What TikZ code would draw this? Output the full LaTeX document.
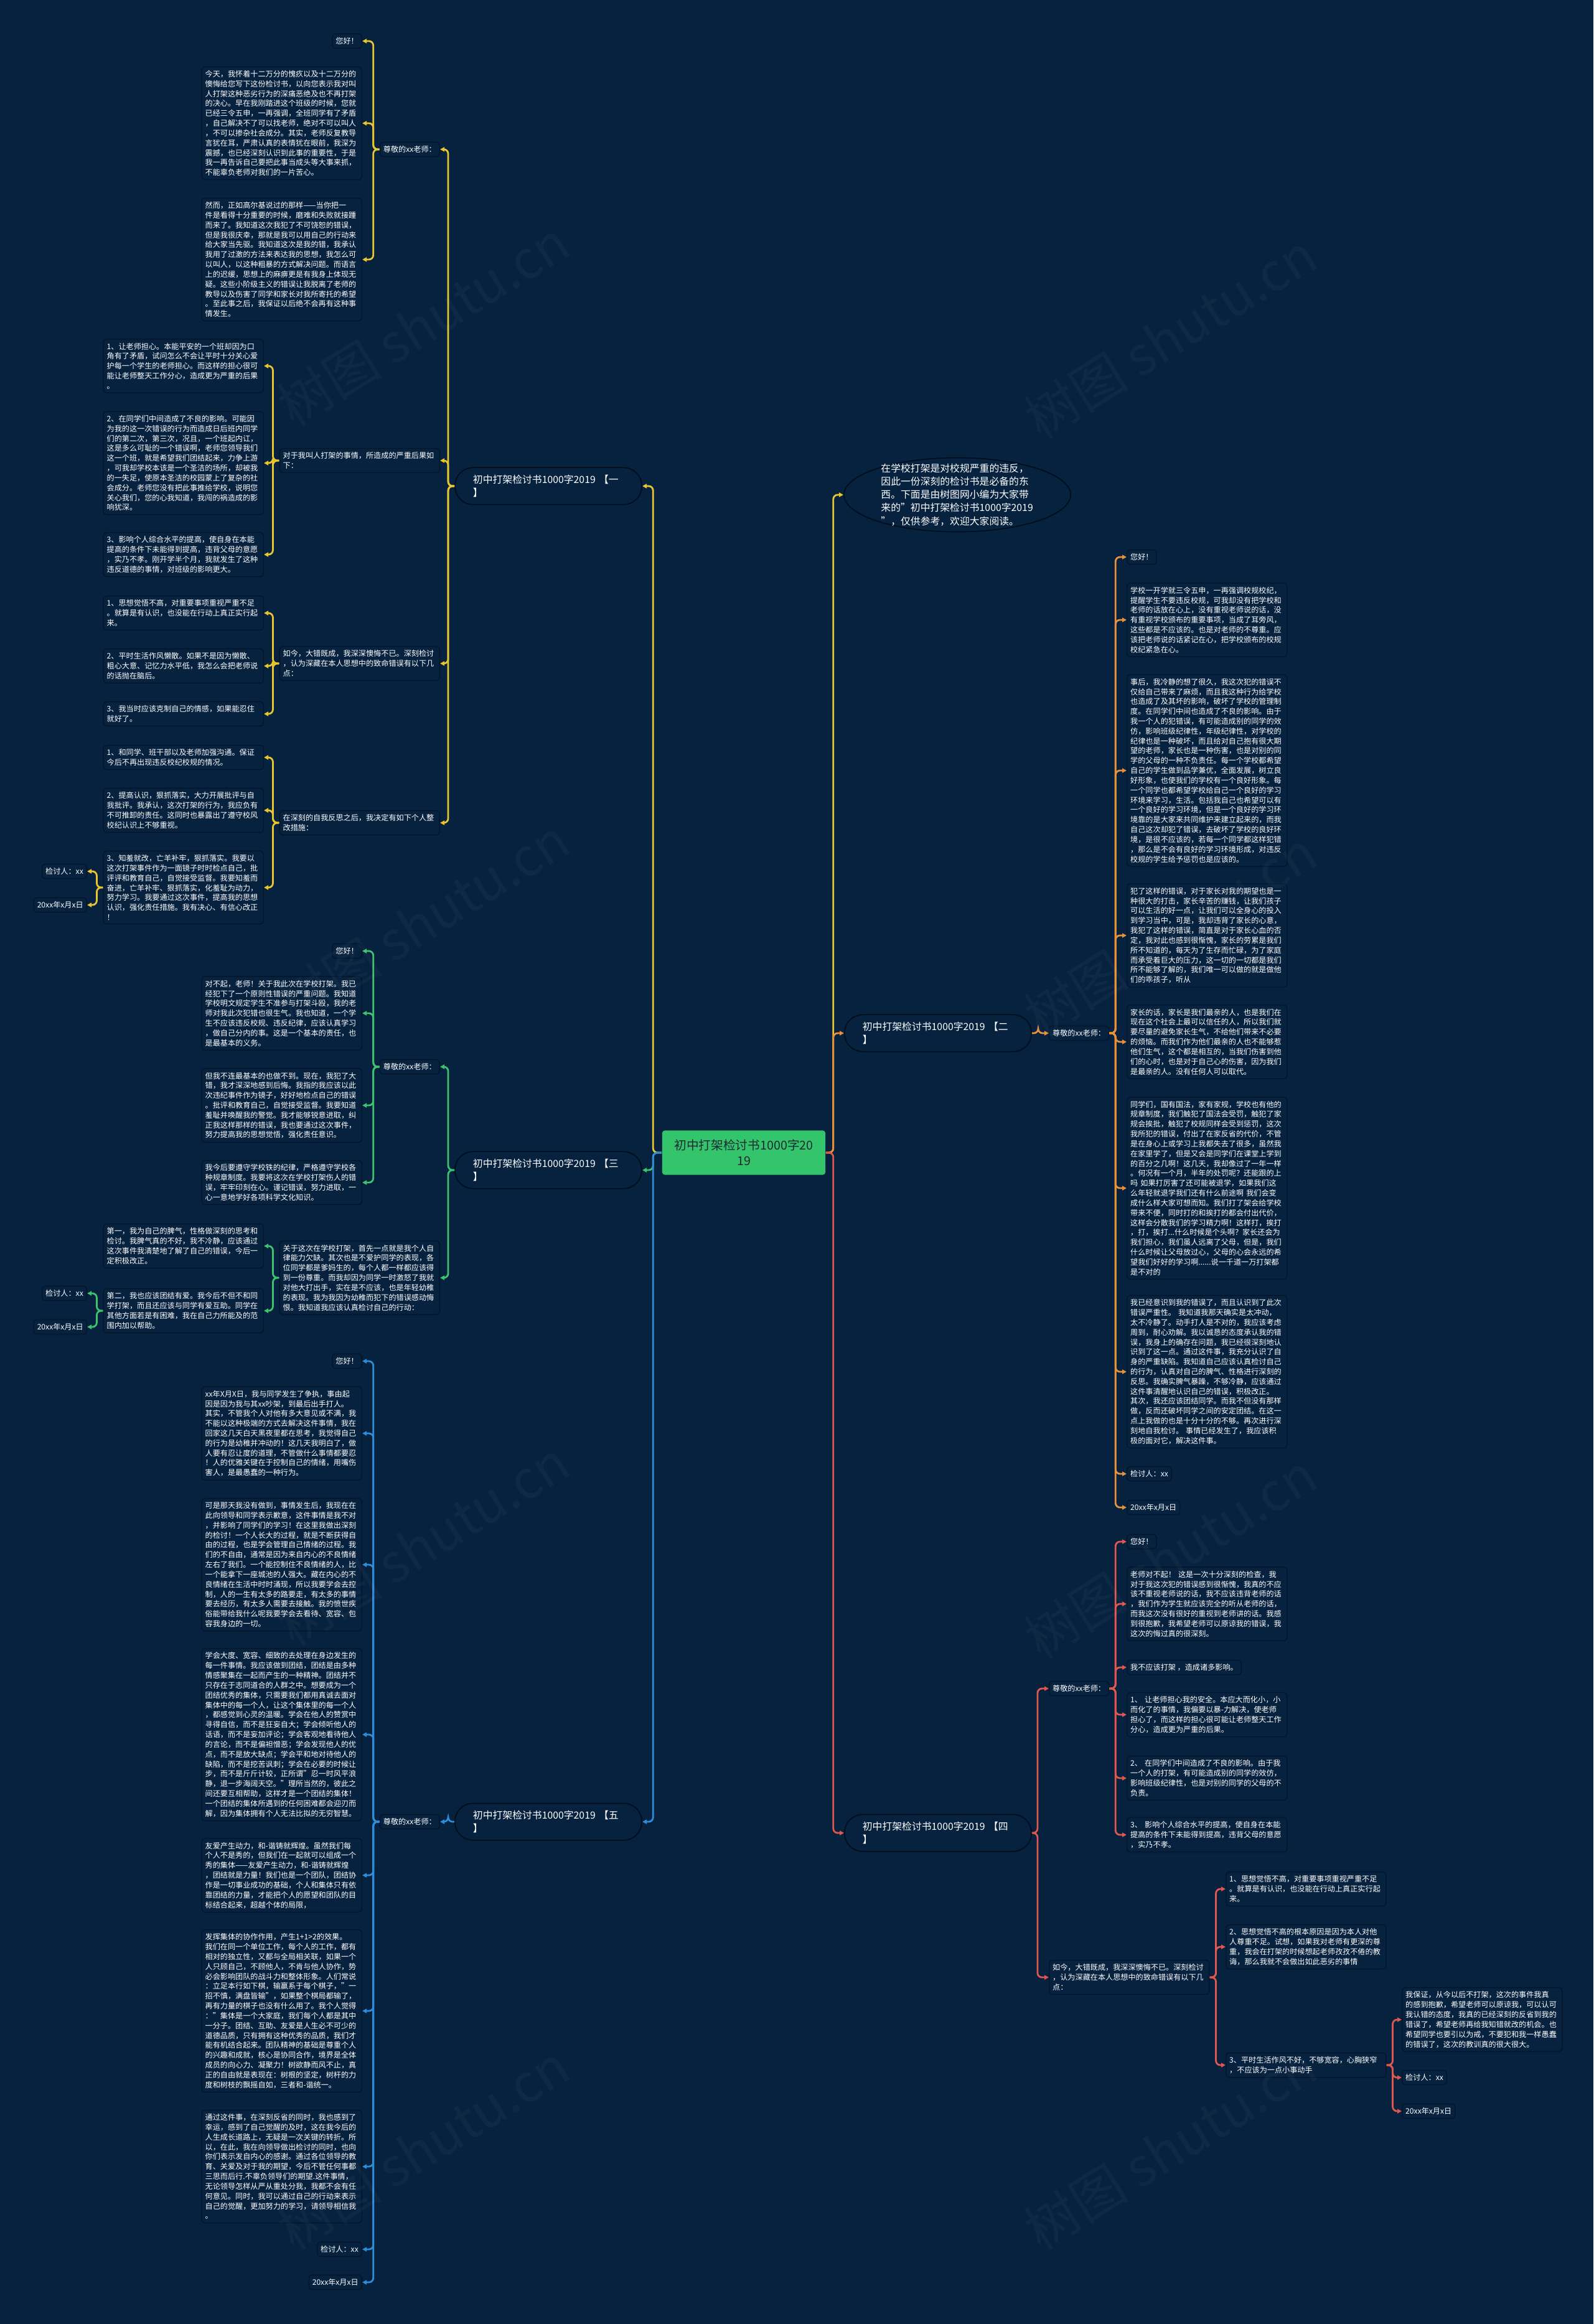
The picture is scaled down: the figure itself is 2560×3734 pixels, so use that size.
\documentclass[tikz,border=0pt]{standalone}
\usepackage{fontspec}
\setmainfont{Noto Sans CJK SC}
\usetikzlibrary{arrows.meta, shapes.geometric}
\definecolor{bgnavy}{HTML}{07223F}
\definecolor{cardedge}{HTML}{04152A}
\definecolor{branchedge}{HTML}{020E1C}
\definecolor{colYel}{HTML}{E9C62E}
\definecolor{colOrg}{HTML}{E8903A}
\definecolor{colRed}{HTML}{E0574F}
\definecolor{colGrn}{HTML}{3DC26E}
\definecolor{colBlu}{HTML}{2E8DD8}
\definecolor{rootgreen}{HTML}{34C46B}
\definecolor{rootink}{HTML}{1B2A33}
\newcommand{\boxfont}{\fontsize{3.45pt}{4.5pt}\selectfont}
\newcommand{\branchfont}{\fontsize{4.5pt}{6pt}\selectfont}
\newcommand{\rootfont}{\fontsize{5.6pt}{7.2pt}\selectfont}

\begin{document}
\begin{tikzpicture}[x=0.01cm, y=-0.01cm,
  link/.style={line width=0.8pt, rounded corners=2pt, -{Triangle[length=0.07cm,width=0.07cm]}},
  toyel/.style={link, draw=colYel},
  toorg/.style={link, draw=colOrg},
  tored/.style={link, draw=colRed},
  togrn/.style={link, draw=colGrn},
  toblu/.style={link, draw=colBlu},
  card/.style={draw=cardedge, fill=bgnavy, rounded corners=0.05cm, text=white, font=\boxfont,
    inner xsep=0.055cm, inner ysep=0.06cm, line width=0.4pt},
  note/.style={card, text width=2.46cm, align=left},
  tag/.style={card, align=left},
  branch/.style={draw=branchedge, fill=bgnavy, rounded corners=0.29cm, text=white, font=\branchfont,
    text width=2.42cm, align=left, inner xsep=0.29cm, minimum height=0.59cm, line width=0.5pt},
  rootbox/.style={fill=rootgreen, rounded corners=0.04cm, text=rootink, font=\rootfont,
    align=center, minimum width=2.62cm, minimum height=0.71cm},
  introshape/.style={ellipse, draw=branchedge, fill=bgnavy, minimum width=3.64cm,
    minimum height=1.19cm, inner sep=0pt, line width=0.5pt},
  introtext/.style={text=white, font=\branchfont, text width=2.45cm, align=left},
  wmark/.style={text=white, text opacity=0.035, font=\fontsize{24pt}{24pt}\selectfont, rotate=32}]

\fill[bgnavy] (0,0) rectangle (2560,3734);
\useasboundingbox (0,0) rectangle (2560,3734);

\node[rootbox] (root) at (1195,1852) {初中打架检讨书1000字20\\19};

\node[introshape] (intro) at (1538,795) {};
\node[introtext] at (intro) {在学校打架是对校规严重的违反，\\因此一份深刻的检讨书是必备的东\\西。下面是由树图网小编为大家带\\来的"初中打架检讨书1000字2019\\"，仅供参考，欢迎大家阅读。};

\node[branch, anchor=east] (b1) at (1032,781) {初中打架检讨书1000字2019 【一\\】};
\node[branch, anchor=west] (b2) at (1356,1660) {初中打架检讨书1000字2019 【二\\】};
\node[branch, anchor=east] (b3) at (1032,1880) {初中打架检讨书1000字2019 【三\\】};
\node[branch, anchor=west] (b4) at (1356,2945) {初中打架检讨书1000字2019 【四\\】};
\node[branch, anchor=east] (b5) at (1032,2927) {初中打架检讨书1000字2019 【五\\】};

\draw[toyel] (root.east) -- ++(12,0) |- (intro.west);
\draw[toorg] (root.east) -- ++(12,0) |- (b2.west);
\draw[tored] (root.east) -- ++(12,0) |- (b4.west);
\draw[toyel] (root.west) -- ++(-14,0) |- (b1.east);
\draw[togrn] (root.west) -- ++(-14,0) |- (b3.east);
\draw[toblu] (root.west) -- ++(-14,0) |- (b5.east);

% 【一】
\node[tag, anchor=east] (b1a) at (707,240) {尊敬的xx老师：};
\node[tag, anchor=east] (b1a1) at (582,66) {您好！};
\node[note, anchor=east] (b1a2) at (582,198) {今天，我怀着十二万分的愧疚以及十二万分的\\懊悔给您写下这份检讨书，以向您表示我对叫\\人打架这种恶劣行为的深痛恶绝及也不再打架\\的决心。早在我刚踏进这个班级的时候，您就\\已经三令五申，一再强调，全班同学有了矛盾\\，自己解决不了可以找老师，绝对不可以叫人\\，不可以掺杂社会成分。其实，老师反复教导\\言犹在耳，严肃认真的表情犹在眼前，我深为\\震撼，也已经深刻认识到此事的重要性，于是\\我一再告诉自己要把此事当成头等大事来抓，\\不能辜负老师对我们的一片苦心。};
\node[note, anchor=east] (b1a3) at (582,417) {然而，正如高尔基说过的那样——当你把一\\件是看得十分重要的时候，磨难和失败就接踵\\而来了。我知道这次我犯了不可饶恕的错误，\\但是我很庆幸，那就是我可以用自己的行动来\\给大家当先驱。我知道这次是我的错，我承认\\我用了过激的方法来表达我的思想，我怎么可\\以叫人，以这种粗暴的方式解决问题。而语言\\上的迟缓，思想上的麻痹更是有我身上体现无\\疑。这些小阶级主义的错误让我脱离了老师的\\教导以及伤害了同学和家长对我所寄托的希望\\。至此事之后，我保证以后绝不会再有这种事\\情发生。};
\node[note, anchor=east] (b1b) at (707,740) {对于我叫人打架的事情，所造成的严重后果如\\下：};
\node[note, anchor=east] (b1b1) at (424,588) {1、让老师担心。本能平安的一个班却因为口\\角有了矛盾，试问怎么不会让平时十分关心爱\\护每一个学生的老师担心。而这样的担心很可\\能让老师整天工作分心，造成更为严重的后果\\。};
\node[note, anchor=east] (b1b2) at (424,744) {2、在同学们中间造成了不良的影响。可能因\\为我的这一次错误的行为而造成日后班内同学\\们的第二次，第三次，况且，一个班起内讧，\\这是多么可耻的一个错误啊，老师您领导我们\\这一个班，就是希望我们团结起来，力争上游\\，可我却学校本该是一个圣洁的场所，却被我\\的一失足，使原本圣洁的校园蒙上了复杂的社\\会成分。老师您没有把此事推给学校，说明您\\关心我们，您的心我知道，我闯的祸造成的影\\响犹深。};
\node[note, anchor=east] (b1b3) at (424,891) {3、影响个人综合水平的提高，使自身在本能\\提高的条件下未能得到提高，违背父母的意愿\\，实乃不孝。刚开学半个月，我就发生了这种\\违反道德的事情，对班级的影响更大。};
\node[note, anchor=east] (b1c) at (707,1066) {如今，大错既成，我深深懊悔不已。深刻检讨\\，认为深藏在本人思想中的致命错误有以下几\\点：};
\node[note, anchor=east] (b1c1) at (424,985) {1、思想觉悟不高，对重要事项重视严重不足\\。就算是有认识，也没能在行动上真正实行起\\来。};
\node[note, anchor=east] (b1c2) at (424,1070) {2、平时生活作风懒散。如果不是因为懒散、\\粗心大意、记忆力水平低，我怎么会把老师说\\的话抛在脑后。};
\node[note, anchor=east] (b1c3) at (424,1147) {3、我当时应该克制自己的情感，如果能忍住\\就好了。};
\node[note, anchor=east] (b1d) at (707,1322) {在深刻的自我反思之后，我决定有如下个人整\\改措施：};
\node[note, anchor=east] (b1d1) at (424,1217) {1、和同学、班干部以及老师加强沟通。保证\\今后不再出现违反校纪校规的情况。};
\node[note, anchor=east] (b1d2) at (424,1302) {2、提高认识，狠抓落实，大力开展批评与自\\我批评。我承认，这次打架的行为，我应负有\\不可推卸的责任。这同时也暴露出了遵守校风\\校纪认识上不够重视。};
\node[note, anchor=east] (b1d3) at (424,1426) {3、知羞就改，亡羊补牢，狠抓落实。我要以\\这次打架事件作为一面镜子时时检点自己，批\\评评和教育自己，自觉接受监督。我要知羞而\\奋进，亡羊补牢、狠抓落实，化羞耻为动力，\\努力学习。我要通过这次事件，提高我的思想\\认识，强化责任措施。我有决心、有信心改正\\！};
\node[tag, anchor=east] (b1sign) at (140,1400) {检讨人：xx};
\node[tag, anchor=east] (b1date) at (140,1454) {20xx年x月x日};

\draw[toyel] (b1.west) -- ++(-10,0) |- (b1a.east);
\draw[toyel] (b1.west) -- ++(-10,0) |- (b1b.east);
\draw[toyel] (b1.west) -- ++(-10,0) |- (b1c.east);
\draw[toyel] (b1.west) -- ++(-10,0) |- (b1d.east);
\draw[toyel] (b1a.west) -- ++(-10,0) |- (b1a1.east);
\draw[toyel] (b1a.west) -- ++(-10,0) |- (b1a2.east);
\draw[toyel] (b1a.west) -- ++(-10,0) |- (b1a3.east);
\draw[toyel] (b1b.west) -- ++(-10,0) |- (b1b1.east);
\draw[toyel] (b1b.west) -- ++(-10,0) |- (b1b2.east);
\draw[toyel] (b1b.west) -- ++(-10,0) |- (b1b3.east);
\draw[toyel] (b1c.west) -- ++(-10,0) |- (b1c1.east);
\draw[toyel] (b1c.west) -- ++(-10,0) |- (b1c2.east);
\draw[toyel] (b1c.west) -- ++(-10,0) |- (b1c3.east);
\draw[toyel] (b1d.west) -- ++(-10,0) |- (b1d1.east);
\draw[toyel] (b1d.west) -- ++(-10,0) |- (b1d2.east);
\draw[toyel] (b1d.west) -- ++(-10,0) |- (b1d3.east);
\draw[toyel] (b1d3.west) -- ++(-10,0) |- (b1sign.east);
\draw[toyel] (b1d3.west) -- ++(-10,0) |- (b1date.east);

% 【三】
\node[tag, anchor=east] (b3a) at (707,1714) {尊敬的xx老师：};
\node[tag, anchor=east] (b3a1) at (582,1528) {您好！};
\node[note, anchor=east] (b3a2) at (582,1628) {对不起，老师！关于我此次在学校打架。我已\\经犯下了一个原则性错误的严重问题。我知道\\学校明文规定学生不准参与打架斗殴，我的老\\师对我此次犯错也很生气。我也知道，一个学\\生不应该违反校规、违反纪律，应该认真学习\\，做自己分内的事。这是一个基本的责任，也\\是最基本的义务。};
\node[note, anchor=east] (b3a3) at (582,1776) {但我不连最基本的也做不到。现在，我犯了大\\错，我才深深地感到后悔。我指的我应该以此\\次违纪事件作为镜子，好好地检点自己的错误\\。批评和教育自己，自觉接受监督。我要知道\\羞耻并唤醒我的警觉。我才能够锐意进取，纠\\正我这样那样的错误，我也要通过这次事件，\\努力提高我的思想觉悟，强化责任意识。};
\node[note, anchor=east] (b3a4) at (582,1900) {我今后要遵守学校铁的纪律，严格遵守学校各\\种规章制度。我要将这次在学校打架伤人的错\\误，牢牢印刻在心。谨记错误，努力进取，一\\心一意地学好各项科学文化知识。};
\node[note, anchor=east] (b3b) at (707,2053) {关于这次在学校打架，首先一点就是我个人自\\律能力欠缺。其次也是不爱护同学的表现，各\\位同学都是爹妈生的，每个人都一样都应该得\\到一份尊重。而我却因为同学一时激怒了我就\\对他大打出手，实在是不应该，也是年轻幼稚\\的表现。我为我因为幼稚而犯下的错误感动悔\\恨。我知道我应该认真检讨自己的行动：};
\node[note, anchor=east] (b3b1) at (424,2002) {第一，我为自己的脾气，性格做深刻的思考和\\检讨。我脾气真的不好，我不冷静，应该通过\\这次事件我清楚地了解了自己的错误，今后一\\定积极改正。};
\node[note, anchor=east] (b3b2) at (424,2106) {第二，我也应该团结有爱。我今后不但不和同\\学打架，而且还应该与同学有爱互助。同学在\\其他方面若是有困难，我在自己力所能及的范\\围内加以帮助。};
\node[tag, anchor=east] (b3sign) at (140,2078) {检讨人：xx};
\node[tag, anchor=east] (b3date) at (140,2132) {20xx年x月x日};

\draw[togrn] (b3.west) -- ++(-10,0) |- (b3a.east);
\draw[togrn] (b3.west) -- ++(-10,0) |- (b3b.east);
\draw[togrn] (b3a.west) -- ++(-10,0) |- (b3a1.east);
\draw[togrn] (b3a.west) -- ++(-10,0) |- (b3a2.east);
\draw[togrn] (b3a.west) -- ++(-10,0) |- (b3a3.east);
\draw[togrn] (b3a.west) -- ++(-10,0) |- (b3a4.east);
\draw[togrn] (b3b.west) -- ++(-10,0) |- (b3b1.east);
\draw[togrn] (b3b.west) -- ++(-10,0) |- (b3b2.east);
\draw[togrn] (b3b2.west) -- ++(-10,0) |- (b3sign.east);
\draw[togrn] (b3b2.west) -- ++(-10,0) |- (b3date.east);

% 【五】
\node[tag, anchor=east] (b5a) at (707,2927) {尊敬的xx老师：};
\node[tag, anchor=east] (b5a1) at (582,2187) {您好！};
\node[note, anchor=east] (b5a2) at (582,2303) {xx年X月X日，我与同学发生了争执，事由起\\因是因为我与其xx吵架，到最后出手打人。\\其实，不管我个人对他有多大意见或不满，我\\不能以这种极端的方式去解决这件事情，我在\\回家这几天白天黑夜里都在思考，我觉得自己\\的行为是幼稚并冲动的！这几天我明白了，做\\人要有忍让度的道理，不管做什么事情都要忍\\！人的优雅关键在于控制自己的情绪，用嘴伤\\害人，是最愚蠢的一种行为。};
\node[note, anchor=east] (b5a3) at (582,2514) {可是那天我没有做到，事情发生后，我现在在\\此向领导和同学表示歉意，这件事情是我不对\\，并影响了同学们的学习！在这里我做出深刻\\的检讨！一个人长大的过程，就是不断获得自\\由的过程，也是学会管理自己情绪的过程。我\\们的不自由，通常是因为来自内心的不良情绪\\左右了我们。一个能控制住不良情绪的人，比\\一个能拿下一座城池的人强大。藏在内心的不\\良情绪在生活中时时涌现，所以我要学会去控\\制，人的一生有太多的路要走，有太多的事情\\要去经历，有太多人需要去接触。我的愤世疾\\俗能带给我什么呢我要学会去看待、宽容、包\\容我身边的一切。};
\node[note, anchor=east] (b5a4) at (582,2787) {学会大度、宽容、细致的去处理在身边发生的\\每一件事情。我应该做到团结，团结是由多种\\情感聚集在一起而产生的一种精神。团结并不\\只存在于志同道合的人群之中。想要成为一个\\团结优秀的集体，只需要我们都用真诚去面对\\集体中的每一个人，让这个集体里的每一个人\\，都感觉到心灵的温暖。学会在他人的赞赏中\\寻得自信，而不是狂妄自大；学会倾听他人的\\话语，而不是妄加评论；学会客观地看待他人\\的言论，而不是偏袒憎恶；学会发现他人的优\\点，而不是放大缺点；学会平和地对待他人的\\缺陷，而不是挖苦讽刺；学会在必要的时候让\\步，而不是斤斤计较，正所谓"忍一时风平浪\\静，退一步海阔天空。"理所当然的，彼此之\\间还要互相帮助，这样才是一个团结的集体！\\一个团结的集体所遇到的任何困难都会迎刃而\\解，因为集体拥有个人无法比拟的无穷智慧。};
\node[note, anchor=east] (b5a5) at (582,3013) {友爱产生动力，和-谐铸就辉煌。虽然我们每\\个人不是秀的，但我们在一起就可以组成一个\\秀的集体——友爱产生动力，和-谐铸就辉煌\\，团结就是力量！我们也是一个团队，团结协\\作是一切事业成功的基础，个人和集体只有依\\靠团结的力量，才能把个人的愿望和团队的目\\标结合起来，超越个体的局限，};
\node[note, anchor=east] (b5a6) at (582,3231) {发挥集体的协作作用，产生1+1>2的效果。\\我们在同一个单位工作，每个人的工作，都有\\相对的独立性，又都与全局相关联，如果一个\\人只顾自己，不顾他人，不肯与他人协作，势\\必会影响团队的战斗力和整体形象。人们常说\\：立足本行如下棋，输赢系于每个棋子，"一\\招不慎，满盘皆输"，如果整个棋局都输了，\\再有力量的棋子也没有什么用了。我个人觉得\\："集体是一个大家庭，我们每个人都是其中\\一分子。团结、互助、友爱是人生必不可少的\\道德品质，只有拥有这种优秀的品质，我们才\\能有机结合起来。团队精神的基础是尊重个人\\的兴趣和成就，核心是协同合作，境界是全体\\成员的向心力、凝聚力！树欲静而风不止，真\\正的自由就是表现在：树根的坚定，树杆的力\\度和树枝的飘摇自如，三者和-谐统一。};
\node[note, anchor=east] (b5a7) at (582,3481) {通过这件事，在深刻反省的同时，我也感到了\\幸运，感到了自己觉醒的及时，这在我今后的\\人生成长道路上，无疑是一次关键的转折。所\\以，在此，我在向领导做出检讨的同时，也向\\你们表示发自内心的感谢。通过各位领导的教\\育、关爱及对于我的期望，今后不管任何事都\\三思而后行.不辜负领导们的期望.这件事情，\\无论领导怎样从严从重处分我，我都不会有任\\何意见。同时，我可以通过自己的行动来表示\\自己的觉醒，更加努力的学习，请领导相信我\\。};
\node[tag, anchor=east] (b5sign) at (582,3614) {检讨人：xx};
\node[tag, anchor=east] (b5date) at (582,3667) {20xx年x月x日};

\draw[toblu] (b5.west) -- ++(-10,0) |- (b5a.east);
\draw[toblu] (b5a.west) -- ++(-10,0) |- (b5a1.east);
\draw[toblu] (b5a.west) -- ++(-10,0) |- (b5a2.east);
\draw[toblu] (b5a.west) -- ++(-10,0) |- (b5a3.east);
\draw[toblu] (b5a.west) -- ++(-10,0) |- (b5a4.east);
\draw[toblu] (b5a.west) -- ++(-10,0) |- (b5a5.east);
\draw[toblu] (b5a.west) -- ++(-10,0) |- (b5a6.east);
\draw[toblu] (b5a.west) -- ++(-10,0) |- (b5a7.east);
\draw[toblu] (b5a.west) -- ++(-10,0) |- (b5sign.east);
\draw[toblu] (b5a.west) -- ++(-10,0) |- (b5date.east);

% 【二】
\node[tag, anchor=west] (b2a) at (1685,1660) {尊敬的xx老师：};
\node[tag, anchor=west] (b2a1) at (1810,895) {您好！};
\node[note, anchor=west] (b2a2) at (1810,996) {学校一开学就三令五申，一再强调校规校纪，\\提醒学生不要违反校规，可我却没有把学校和\\老师的话放在心上，没有重视老师说的话，没\\有重视学校颁布的重要事项，当成了耳旁风，\\这些都是不应该的。也是对老师的不尊重。应\\该把老师说的话紧记在心，把学校颁布的校规\\校纪紧急在心。};
\node[note, anchor=west] (b2a3) at (1810,1238) {事后，我冷静的想了很久，我这次犯的错误不\\仅给自己带来了麻烦，而且我这种行为给学校\\也造成了及其坏的影响，破坏了学校的管理制\\度。在同学们中间也造成了不良的影响。由于\\我一个人的犯错误，有可能造成别的同学的效\\仿，影响班级纪律性，年级纪律性，对学校的\\纪律也是一种破坏，而且给对自己抱有很大期\\望的老师，家长也是一种伤害，也是对别的同\\学的父母的一种不负责任。每一个学校都希望\\自己的学生做到品学兼优，全面发展，树立良\\好形象，也使我们的学校有一个良好形象。每\\一个同学也都希望学校给自己一个良好的学习\\环境来学习，生活。包括我自己也希望可以有\\一个良好的学习环境，但是一个良好的学习环\\境靠的是大家来共同维护来建立起来的，而我\\自己这次却犯了错误，去破坏了学校的良好环\\境，是很不应该的，若每一个同学都这样犯错\\，那么是不会有良好的学习环境形成，对违反\\校规的学生给予惩罚也是应该的。};
\node[note, anchor=west] (b2a4) at (1810,1503) {犯了这样的错误，对于家长对我的期望也是一\\种很大的打击，家长辛苦的赚钱，让我们孩子\\可以生活的好一点，让我们可以全身心的投入\\到学习当中，可是，我却违背了家长的心意，\\我犯了这样的错误，简直是对于家长心血的否\\定，我对此也感到很惭愧，家长的劳累是我们\\所不知道的，每天为了生存而忙碌，为了家庭\\而承受着巨大的压力，这一切的一切都是我们\\所不能够了解的，我们唯一可以做的就是做他\\们的乖孩子，听从};
\node[note, anchor=west] (b2a5) at (1810,1674) {家长的话，家长是我们最亲的人，也是我们在\\现在这个社会上最可以信任的人，所以我们就\\要尽量的避免家长生气，不给他们带来不必要\\的烦恼。而我们作为他们最亲的人也不能够惹\\他们生气，这个都是相互的，当我们伤害到他\\们的心时，也是对于自己心的伤害，因为我们\\是最亲的人。没有任何人可以取代。};
\node[note, anchor=west] (b2a6) at (1810,1909) {同学们，国有国法，家有家规，学校也有他的\\规章制度，我们触犯了国法会受罚，触犯了家\\规会挨批，触犯了校规同样会受到惩罚，这次\\我所犯的错误，付出了在家反省的代价，不管\\是在身心上或学习上我都失去了很多，虽然我\\在家里学了，但是又会是同学们在课堂上学到\\的百分之几啊！这几天，我却像过了一年一样\\。何况有一个月，半年的处罚呢？还能跟的上\\吗 如果打厉害了还可能被退学，如果我们这\\么年轻就退学我们还有什么前途啊 我们会变\\成什么样大家可想而知。我们打了架会给学校\\带来不便，同时打的和挨打的都会付出代价，\\这样会分散我们的学习精力啊！这样打，挨打\\，打，挨打...什么时候是个头啊？家长还会为\\我们担心，我们虽人远离了父母，但是，我们\\什么时候让父母放过心，父母的心会永远的希\\望我们好好的学习啊......说一千道一万打架都\\是不对的};
\node[note, anchor=west] (b2a7) at (1810,2204) {我已经意识到我的错误了，而且认识到了此次\\错误严重性。 我知道我那天确实是太冲动，\\太不冷静了。动手打人是不对的，我应该考虑\\周到，耐心劝解。我以诚恳的态度承认我的错\\误，我身上的确存在问题，我已经很深刻地认\\识到了这一点。通过这件事，我充分认识了自\\身的严重缺陷。我知道自己应该认真检讨自己\\的行为，认真对自己的脾气、性格进行深刻的\\反思。我确实脾气暴躁，不够冷静，应该通过\\这件事清醒地认识自己的错误，积极改正。\\其次，我还应该团结同学。而我不但没有那样\\做，反而还破坏同学之间的安定团结。在这一\\点上我做的也是十分十分的不够。再次进行深\\刻地自我检讨。 事情已经发生了，我应该积\\极的面对它，解决这件事。};
\node[tag, anchor=west] (b2sign) at (1810,2368) {检讨人：xx};
\node[tag, anchor=west] (b2date) at (1810,2422) {20xx年x月x日};

\draw[toorg] (b2.east) -- ++(10,0) |- (b2a.west);
\draw[toorg] (b2a.east) -- ++(10,0) |- (b2a1.west);
\draw[toorg] (b2a.east) -- ++(10,0) |- (b2a2.west);
\draw[toorg] (b2a.east) -- ++(10,0) |- (b2a3.west);
\draw[toorg] (b2a.east) -- ++(10,0) |- (b2a4.west);
\draw[toorg] (b2a.east) -- ++(10,0) |- (b2a5.west);
\draw[toorg] (b2a.east) -- ++(10,0) |- (b2a6.west);
\draw[toorg] (b2a.east) -- ++(10,0) |- (b2a7.west);
\draw[toorg] (b2a.east) -- ++(10,0) |- (b2sign.west);
\draw[toorg] (b2a.east) -- ++(10,0) |- (b2date.west);

% 【四】
\node[tag, anchor=west] (b4a) at (1685,2713) {尊敬的xx老师：};
\node[tag, anchor=west] (b4a1) at (1810,2477) {您好！};
\node[note, anchor=west] (b4a2) at (1810,2577) {老师对不起！ 这是一次十分深刻的检查，我\\对于我这次犯的错误感到很惭愧，我真的不应\\该不重视老师说的话，我不应该违背老师的话\\，我们作为学生就应该完全的听从老师的话，\\而我这次没有很好的重视到老师讲的话。我感\\到很抱歉，我希望老师可以原谅我的错误，我\\这次的悔过真的很深刻。};
\node[tag, anchor=west] (b4a3) at (1810,2679) {我不应该打架 ，造成诸多影响。};
\node[note, anchor=west] (b4a4) at (1810,2755) {1、 让老师担心我的安全。本应大而化小，小\\而化了的事情，我偏要以暴-力解决，使老师\\担心了，而这样的担心很可能让老师整天工作\\分心，造成更为严重的后果。};
\node[note, anchor=west] (b4a5) at (1810,2857) {2、 在同学们中间造成了不良的影响。由于我\\一个人的打架，有可能造成别的同学的效仿，\\影响班级纪律性，也是对别的同学的父母的不\\负责。};
\node[note, anchor=west] (b4a6) at (1810,2948) {3、 影响个人综合水平的提高，使自身在本能\\提高的条件下未能得到提高，违背父母的意愿\\，实乃不孝。};
\node[note, anchor=west] (b4b) at (1685,3177) {如今，大错既成，我深深懊悔不已。深刻检讨\\，认为深藏在本人思想中的致命错误有以下几\\点：};
\node[note, anchor=west] (b4b1) at (1969,3035) {1、思想觉悟不高，对重要事项重视严重不足\\。就算是有认识，也没能在行动上真正实行起\\来。};
\node[note, anchor=west] (b4b2) at (1969,3128) {2、思想觉悟不高的根本原因是因为本人对他\\人尊重不足。试想，如果我对老师有更深的尊\\重，我会在打架的时候想起老师孜孜不倦的教\\诲，那么我就不会做出如此恶劣的事情};
\node[note, anchor=west] (b4b3) at (1969,3318) {3、平时生活作风不好，不够宽容，心胸狭窄\\，不应该为一点小事动手};
\node[note, anchor=west] (b4sure) at (2252,3245) {我保证，从今以后不打架，这次的事件我真\\的感到抱歉，希望老师可以原谅我，可以认可\\我认错的态度，我真的已经深刻的反省到我的\\错误了，希望老师再给我知错就改的机会。也\\希望同学也要引以为戒，不要犯和我一样愚蠢\\的错误了，这次的教训真的很大很大。};
\node[tag, anchor=west] (b4sign) at (2252,3338) {检讨人：xx};
\node[tag, anchor=west] (b4date) at (2252,3392) {20xx年x月x日};

\draw[tored] (b4.east) -- ++(9,0) |- (b4a.west);
\draw[tored] (b4.east) -- ++(9,0) |- (b4b.west);
\draw[tored] (b4a.east) -- ++(10,0) |- (b4a1.west);
\draw[tored] (b4a.east) -- ++(10,0) |- (b4a2.west);
\draw[tored] (b4a.east) -- ++(10,0) |- (b4a3.west);
\draw[tored] (b4a.east) -- ++(10,0) |- (b4a4.west);
\draw[tored] (b4a.east) -- ++(10,0) |- (b4a5.west);
\draw[tored] (b4a.east) -- ++(10,0) |- (b4a6.west);
\draw[tored] (b4b.east) -- ++(10,0) |- (b4b1.west);
\draw[tored] (b4b.east) -- ++(10,0) |- (b4b2.west);
\draw[tored] (b4b.east) -- ++(10,0) |- (b4b3.west);
\draw[tored] (b4b3.east) -- ++(10,0) |- (b4sure.west);
\draw[tored] (b4b3.east) -- ++(10,0) |- (b4sign.west);
\draw[tored] (b4b3.east) -- ++(10,0) |- (b4date.west);

\node[wmark] (wm1) at (680,520) {树图 shutu.cn};
\node[wmark] (wm2) at (1880,540) {树图 shutu.cn};
\node[wmark] (wm3) at (680,1480) {树图 shutu.cn};
\node[wmark] (wm4) at (1880,1500) {树图 shutu.cn};
\node[wmark] (wm5) at (680,2480) {树图 shutu.cn};
\node[wmark] (wm6) at (1880,2500) {树图 shutu.cn};
\node[wmark] (wm7) at (680,3450) {树图 shutu.cn};
\node[wmark] (wm8) at (1880,3450) {树图 shutu.cn};
\end{tikzpicture}
\end{document}
